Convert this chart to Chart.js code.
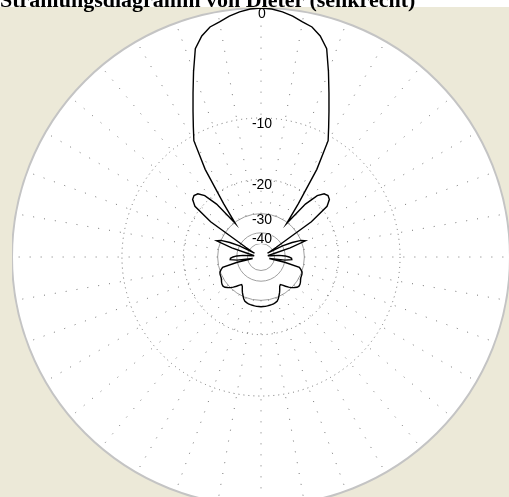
<!DOCTYPE html>
<html>
<head>
<meta charset="utf-8">
<style>
  html, body { margin: 0; padding: 0; background: #fff; overflow: hidden; }
  #title { position: absolute; left: 0; top: -11px; z-index: 2; white-space: nowrap; color: #000;
           font: bold 22px "Liberation Serif", "Times New Roman", serif; line-height: 22px; }
  #panel { position: absolute; left: 0; top: 7px; width: 509px; height: 490px; background: #ece9d8; overflow: hidden; }
  #chart { position: absolute; left: 12px; top: 1px; }
</style>
</head>
<body>
<div id="panel"><canvas id="chart" width="498" height="498"></canvas></div>
<div id="title">Strahlungsdiagramm von Dieter (senkrecht)</div>

<script src="https://cdn.jsdelivr.net/npm/chart.js@4.4.0/dist/chart.umd.min.js"></script>
<script>
// direction in degrees, 0 = up, clockwise, 2.5 degree steps
const angles = [
    0, 2.5, 5, 7.5, 10, 12.5, 15, 17.5, 20, 22.5, 25, 27.5, 30, 32.5, 35, 37.5, 40, 42.5,
    45, 47.5, 50, 52.5, 55, 57.5, 60, 62.5, 65, 67.5, 70, 72.5, 75, 77.5, 80, 82.5, 85, 87.5,
    90, 92.5, 95, 97.5, 100, 102.5, 105, 107.5, 110, 112.5, 115, 117.5, 120, 122.5, 125, 127.5, 130, 132.5,
    135, 137.5, 140, 142.5, 145, 147.5, 150, 152.5, 155, 157.5, 160, 162.5, 165, 167.5, 170, 172.5, 175, 177.5,
    180, 182.5, 185, 187.5, 190, 192.5, 195, 197.5, 200, 202.5, 205, 207.5, 210, 212.5, 215, 217.5, 220, 222.5,
    225, 227.5, 230, 232.5, 235, 237.5, 240, 242.5, 245, 247.5, 250, 252.5, 255, 257.5, 260, 262.5, 265, 267.5,
    270, 272.5, 275, 277.5, 280, 282.5, 285, 287.5, 290, 292.5, 295, 297.5, 300, 302.5, 305, 307.5, 310, 312.5,
    315, 317.5, 320, 322.5, 325, 327.5, 330, 332.5, 335, 337.5, 340, 342.5, 345, 347.5, 350, 352.5, 355, 357.5
];

// relative field strength in dB
const patternDb = [
    0, -0.05, -0.2, -0.42, -0.72, -0.95, -1.45, -2.25, -4, -5.8, -7.5, -9.1, -10.6, -15, -23, -30.5, -22, -18.8,
    -17.6, -17.3, -17.6, -18.8, -24, -45, -60, -40, -34, -30, -28.5, -36, -50, -60, -60, -55, -45, -40,
    -37.5, -36, -35.8, -40, -58, -40, -31.5, -30.6, -29.9, -29.6, -29.5, -29.4, -29.1, -28.7, -28.4, -28.3, -28.6, -29.3,
    -30, -31, -32.2, -33.5, -34.3, -33.8, -32.5, -31.3, -30.3, -29.3, -28.6, -28.3, -28.1, -28, -27.9, -27.8, -27.7, -27.7,
    -27.65, -27.7, -27.7, -27.8, -27.9, -28, -28.1, -28.3, -28.6, -29.3, -30.3, -31.3, -32.5, -33.8, -34.3, -33.5, -32.2, -31,
    -30, -29.3, -28.6, -28.3, -28.4, -28.7, -29.1, -29.4, -29.5, -29.6, -29.9, -30.6, -31.5, -40, -58, -40, -35.8, -36,
    -37.5, -40, -45, -55, -60, -60, -50, -36, -28.5, -30, -34, -40, -60, -45, -24, -18.8, -17.6, -17.3,
    -17.6, -18.8, -22, -30.5, -23, -15, -10.6, -9.1, -7.5, -5.8, -4, -2.25, -1.45, -0.95, -0.72, -0.42, -0.2, -0.05
];

const ringValues = [0, -10, -20, -30, -40, -50];
const ringLabels = ['0', '-10', '-20', '-30', '-40', ''];

// ARRL style log-periodic radius: every 2 dB the radius shrinks to 0.89
class ArrlRadialScale extends Chart.RadialLinearScale {
    static id = 'arrlRadial';

    getDistanceFromCenterForValue(value) {
        if (value === null || value === undefined || Number.isNaN(value)) return NaN;
        return this.drawingArea * Math.pow(0.89, -value / 2);
    }

    getValueForDistanceFromCenter(distance) {
        return -2 * Math.log(distance / this.drawingArea) / Math.log(0.89);
    }

    drawGrid() {
        super.drawGrid();
        // spokes every 10 degrees, only outside the -30 ring
        const ctx = this.ctx;
        const n = this._pointLabels.length;
        const inner = this.getDistanceFromCenterForValue(-30);
        const outer = this.getDistanceFromCenterForValue(0);
        ctx.save();
        ctx.strokeStyle = '#777';
        ctx.lineWidth = 1;
        ctx.setLineDash([1, 10]);
        for (let i = 0; i < n; i += 4) {
            const a = this.getPointPosition(i, inner);
            const b = this.getPointPosition(i, outer);
            ctx.beginPath();
            ctx.moveTo(a.x, a.y);
            ctx.lineTo(b.x, b.y);
            ctx.stroke();
        }
        ctx.restore();
    }

    drawLabels() {
        // labels sit just inside each ring, on the vertical axis
        const ctx = this.ctx;
        ctx.save();
        ctx.font = '14px "Liberation Sans", Arial, sans-serif';
        ctx.textAlign = 'center';
        ctx.textBaseline = 'middle';
        this.ticks.forEach(tick => {
            if (!tick.label) return;
            const y = this.yCenter - this.getDistanceFromCenterForValue(tick.value) + 6;
            const w = ctx.measureText(tick.label).width;
            ctx.fillStyle = '#fff';
            ctx.fillRect(this.xCenter + 1 - w / 2, y - 4, w, 9);
            ctx.fillStyle = '#000';
            ctx.fillText(tick.label, this.xCenter + 1, y);
        });
        ctx.restore();
    }
}
Chart.register(ArrlRadialScale);

new Chart(document.getElementById('chart'), {
    type: 'radar',
    data: {
        labels: angles,
        datasets: [{
            data: patternDb,
            borderColor: '#000',
            borderWidth: 1.4,
            pointRadius: 0,
            fill: false,
            tension: 0
        }]
    },
    options: {
        responsive: false,
        animation: false,
        events: [],
        layout: { padding: 0 },
        plugins: { legend: { display: false }, tooltip: { enabled: false } },
        scales: {
            r: {
                type: 'arrlRadial',
                min: -50,
                max: 0,
                backgroundColor: '#fff',
                angleLines: { display: false },
                pointLabels: { display: false },
                grid: {
                    circular: true,
                    color: c => c.tick.value === 0 ? '#c4c4c4' : (c.tick.value <= -30 ? '#a0a0a0' : '#707070'),
                    lineWidth: c => c.tick.value === 0 ? 2 : 1
                },
                border: {
                    dash: c => (c.tick && c.tick.value < 0 && c.tick.value > -30) ? [1, 4] : []
                },
                ticks: {
                    display: false,
                    stepSize: 10,
                    callback: v => ringLabels[ringValues.indexOf(v)] || ''
                }
            }
        }
    }
});
</script>
</body>
</html>
